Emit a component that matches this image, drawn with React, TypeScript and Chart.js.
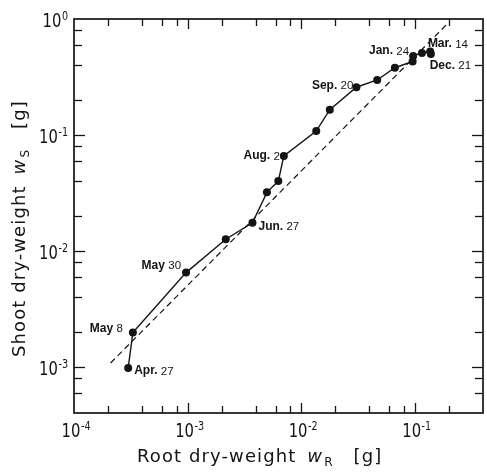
import React, { useEffect, useRef } from 'react';
import { Chart, registerables } from 'chart.js';

Chart.register(...registerables);

// ---- data ----
const rootWeight = [3.0e-4, 3.3e-4, 9.7e-4, 2.17e-3, 3.73e-3, 5.0e-3, 6.3e-3, 7.05e-3, 1.36e-2, 1.79e-2, 3.07e-2, 4.68e-2, 6.7e-2, 0.096, 0.097, 0.116, 0.137, 0.139];
const shootWeight = [9.8e-4, 1.98e-3, 6.5e-3, 1.26e-2, 1.75e-2, 3.2e-2, 4.0e-2, 6.6e-2, 0.108, 0.165, 0.258, 0.298, 0.38, 0.43, 0.48, 0.51, 0.525, 0.5];
const labelIndex = [0, 1, 2, 4, 7, 10, 13, 14, 17];
const labelText = ['Apr. 27', 'May 8', 'May 30', 'Jun. 27', 'Aug. 2', 'Sep. 20', 'Dec. 21', 'Jan. 24', 'Mar. 14'];
const fitRoot = [2.1e-4, 0.19];
const fitShoot = [1.08e-3, 0.89];
const xDecades = [-4, -3, -2, -1];
const yDecades = [-3, -2, -1, 0];
const minorMultipliers = [2, 4, 6, 8];

// ---- label placement (layout, not data) ----
const labelPlacement: Record<string, [number, number, 'left' | 'right']> = {
  'Apr. 27': [6, 3, 'left'],
  'May 8': [-10, -4, 'right'],
  'May 30': [-5, -7, 'right'],
  'Jun. 27': [6, 4, 'left'],
  'Aug. 2': [-4, 0, 'right'],
  'Sep. 20': [-3, -2, 'right'],
  'Dec. 21': [17, 4, 'left'],
  'Jan. 24': [-4, -5, 'right'],
  'Mar. 14': [-3, -10, 'left'],
};

const FONT = "'DejaVu Sans', sans-serif";
const LBL = "'Liberation Sans', Arial, sans-serif";
const INK = '#141414';

function drawCondensed(ctx: CanvasRenderingContext2D, text: string, x: number, y: number, size: number, sx: number) {
  ctx.save();
  ctx.font = `${size}px ${FONT}`;
  ctx.translate(x, y);
  ctx.scale(sx, 1);
  ctx.textAlign = 'left';
  ctx.textBaseline = 'alphabetic';
  ctx.fillText(text, 0, 0);
  ctx.restore();
}
function condensedWidth(ctx: CanvasRenderingContext2D, text: string, size: number, sx: number) {
  ctx.save();
  ctx.font = `${size}px ${FONT}`;
  const w = ctx.measureText(text).width * sx;
  ctx.restore();
  return w;
}

type Part = { t: string; font: string; dy?: number; gap?: number };
function drawParts(ctx: CanvasRenderingContext2D, parts: Part[], x: number, y: number) {
  let cx = x;
  for (const p of parts) {
    cx += p.gap || 0;
    ctx.font = p.font;
    ctx.fillText(p.t, cx, y + (p.dy || 0));
    cx += ctx.measureText(p.t).width;
  }
}

const decorPlugin = {
  id: 'decor',
  afterDraw(chart: any) {
    const { ctx, chartArea: a, scales } = chart;
    const xs = scales.x;
    const ys = scales.y;
    ctx.save();
    ctx.strokeStyle = INK;
    ctx.fillStyle = INK;
    ctx.lineWidth = 1.7;
    ctx.strokeRect(a.left, a.top, a.right - a.left, a.bottom - a.top);

    const seg = (x1: number, y1: number, x2: number, y2: number) => {
      ctx.beginPath();
      ctx.moveTo(x1, y1);
      ctx.lineTo(x2, y2);
      ctx.stroke();
    };
    ctx.lineWidth = 1.3;
    for (let d = -5; d <= 1; d++) {
      for (const m of [1, ...minorMultipliers]) {
        const v = m * Math.pow(10, d);
        if (v > xs.min * 1.001 && v < xs.max * 0.999) {
          const px = Math.round(xs.getPixelForValue(v)) + 0.5;
          const len = m === 1 ? 10 : 7;
          seg(px, a.bottom, px, a.bottom - len);
          seg(px, a.top, px, a.top + len);
        }
        if (v > ys.min * 1.001 && v < ys.max * 0.999) {
          const py = Math.round(ys.getPixelForValue(v)) + 0.5;
          const len = m === 1 ? 11 : 8;
          seg(a.left, py, a.left + len, py);
          seg(a.right, py, a.right - len, py);
        }
      }
    }

    // tick labels
    const sx = 0.74;
    for (const d of xDecades) {
      const px = xs.getPixelForValue(Math.pow(10, d));
      const w10 = condensedWidth(ctx, '10', 20, sx);
      const left = px - 3 - w10 / 2;
      drawCondensed(ctx, '10', left, a.bottom + 24, 20, sx);
      drawCondensed(ctx, String(d), left + w10 + 0.5, a.bottom + 17, 13, sx);
    }
    for (const d of yDecades) {
      const py = ys.getPixelForValue(Math.pow(10, d));
      const exp = String(d);
      const we = condensedWidth(ctx, exp, 13, sx);
      const w10 = condensedWidth(ctx, '10', 20, sx);
      const expLeft = a.left - 6 - we;
      drawCondensed(ctx, exp, expLeft, py + 1, 13, sx);
      drawCondensed(ctx, '10', expLeft - 0.5 - w10, py + 8, 20, sx);
    }

    // axis titles
    ctx.textAlign = 'left';
    ctx.textBaseline = 'alphabetic';
    (ctx as any).letterSpacing = '1.1px';
    const base = `18px ${FONT}`;
    const ital = `italic 18px ${FONT}`;
    const sub = `12px ${FONT}`;
    const xParts: Part[] = [
      { t: 'Root dry-weight', font: base },
      { t: 'w', font: ital, gap: 11 },
      { t: 'R', font: sub, dy: 4, gap: 1 },
      { t: '[g]', font: base, gap: 20 },
    ];
    drawParts(ctx, xParts, a.left + 63, a.bottom + 49);

    ctx.save();
    ctx.translate(25, 357);
    ctx.rotate(-Math.PI / 2);
    const yParts: Part[] = [
      { t: 'Shoot dry-weight', font: base },
      { t: 'w', font: ital, gap: 11 },
      { t: 'S', font: sub, dy: 4, gap: 1 },
      { t: '[g]', font: base, gap: 20 },
    ];
    drawParts(ctx, yParts, 0, 0);
    ctx.restore();
    (ctx as any).letterSpacing = '0px';

    // point labels
    labelIndex.forEach((idx, k) => {
      const txt = labelText[k];
      const [dx, dy, align] = labelPlacement[txt];
      const px = xs.getPixelForValue(rootWeight[idx]) + dx;
      const py = ys.getPixelForValue(shootWeight[idx]) + dy;
      const sp = txt.lastIndexOf(' ');
      const head = txt.slice(0, sp + 1);
      const num = txt.slice(sp + 1);
      const fHead = `bold 12px ${LBL}`;
      const fNum = `11.5px ${LBL}`;
      ctx.textBaseline = 'middle';
      ctx.font = fHead;
      const wh = ctx.measureText(head).width;
      ctx.font = fNum;
      const wn = ctx.measureText(num).width;
      const start = align === 'left' ? px : px - wh - wn;
      ctx.font = fHead;
      ctx.fillText(head, start, py);
      ctx.font = fNum;
      ctx.fillText(num, start + wh, py + 0.5);
    });
    ctx.restore();
  },
};

export default function App() {
  const ref = useRef<HTMLCanvasElement>(null);
  useEffect(() => {
    if (!ref.current) return;
    const chart = new Chart(ref.current, {
      type: 'scatter',
      data: {
        datasets: [
          {
            label: 'fit',
            data: fitRoot.map((x, i) => ({ x, y: fitShoot[i] })),
            showLine: true,
            borderColor: INK,
            borderWidth: 1.2,
            borderDash: [6, 4],
            pointRadius: 0,
            order: 2,
          },
          {
            label: 'growth',
            data: rootWeight.map((x, i) => ({ x, y: shootWeight[i] })),
            showLine: true,
            borderColor: INK,
            backgroundColor: INK,
            borderWidth: 1.4,
            pointRadius: 4,
            pointBackgroundColor: INK,
            pointBorderWidth: 0,
            order: 1,
          },
        ],
      },
      options: {
        animation: false,
        responsive: true,
        maintainAspectRatio: false,
        layout: { padding: { top: 19, right: 1, left: 0, bottom: 0 } },
        plugins: { legend: { display: false }, tooltip: { enabled: false } },
        scales: {
          x: {
            type: 'logarithmic',
            min: 1e-4,
            max: 0.4,
            grid: { display: false },
            border: { display: false },
            ticks: { display: false },
            afterFit: (s: any) => { s.height = 59; },
          },
          y: {
            type: 'logarithmic',
            min: 4e-4,
            max: 1,
            grid: { display: false },
            border: { display: false },
            ticks: { display: false },
            afterFit: (s: any) => { s.width = 74; },
          },
        },
      } as any,
      plugins: [decorPlugin],
    });
    return () => chart.destroy();
  }, []);
  return (
    <div style={{ position: 'fixed', left: 0, top: 0, width: 487, height: 472, background: '#fff' }}>
      <canvas ref={ref} />
    </div>
  );
}
